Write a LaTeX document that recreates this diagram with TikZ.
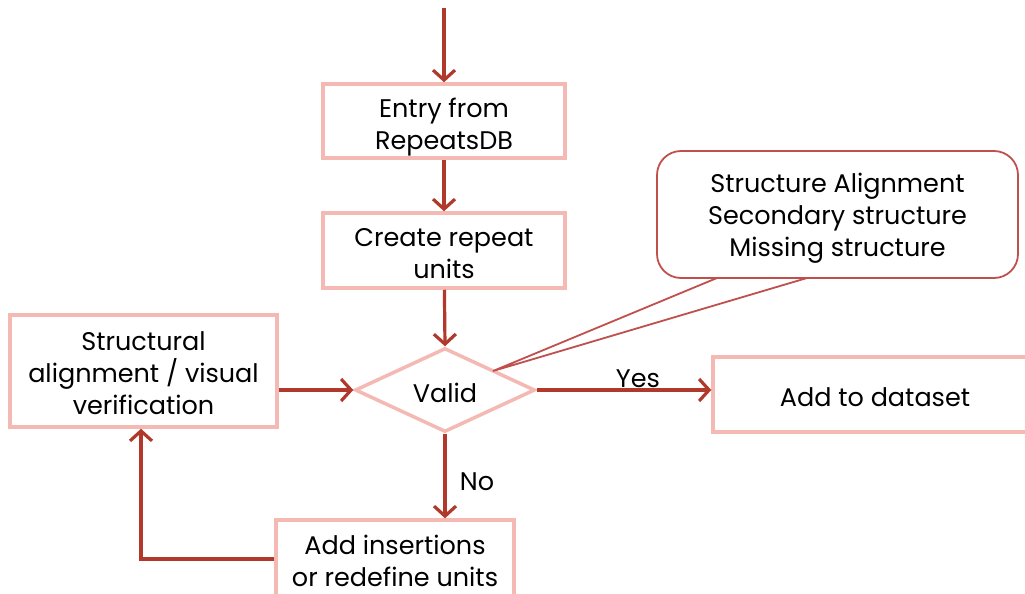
\documentclass[tikz,border=0pt]{standalone}
\usepackage{fontspec}
\setmainfont{Poppins}
\usetikzlibrary{arrows.meta,shapes.geometric}
\definecolor{boxpink}{HTML}{F4B9B2}
\definecolor{flowred}{HTML}{B0392B}
\definecolor{calloutred}{HTML}{C0504D}
\begin{document}
\begin{tikzpicture}[x=1pt,y=-1pt,
  font=\fontsize{25.5}{32}\selectfont,
  stepbox/.style={draw=boxpink,line width=3.5pt,fill=white,
    inner sep=0pt,rectangle},
  decision/.style={draw=boxpink,line width=3.5pt,fill=white,diamond,
    inner sep=0pt,minimum width=180pt,minimum height=84pt},
  boxtext/.style={align=center,inner sep=0pt},
  flow/.style={draw=flowred,line width=3.2pt,
    -{Straight Barb[length=10pt,width=22pt,line width=3.2pt]}},
  note/.style={draw=calloutred,line width=1.8pt,fill=white,rounded corners=24pt,
    inner sep=0pt,minimum width=361pt,minimum height=127pt}]
\useasboundingbox (0,0) rectangle (1025,594);
\clip (0,0) rectangle (1025,594);

% process steps
\node[stepbox,minimum width=242pt,minimum height=74pt] (entry) at (444,121) {};
\node[stepbox,minimum width=242pt,minimum height=75pt] (create) at (444,250.5) {};
\node[decision] (valid) at (445,390) {};
\node[stepbox,minimum width=267pt,minimum height=112pt] (struct) at (143.5,371) {};
\node[stepbox,minimum width=324pt,minimum height=75pt] (dataset) at (875,394.5) {};
\node[stepbox,minimum width=238pt,minimum height=78pt] (insert) at (395,559) {};

% step labels
\node[boxtext] (entrytext) at ([yshift=-6pt]entry.center) {Entry from\\RepeatsDB};
\node[boxtext] (createtext) at ([yshift=-3.5pt]create.center) {Create repeat\\units};
\node[boxtext] (validtext) at ([yshift=-3pt]valid.center) {Valid};
\node[boxtext] (structtext) at ([yshift=-2.5pt]struct.center) {Structural\\alignment / visual\\verification};
\node[boxtext] (datasettext) at ([yshift=-3pt]dataset.center) {Add to dataset};
\node[boxtext] (inserttext) at ([yshift=-2pt]insert.center) {Add insertions\\or redefine units};

% callout listing the validity checks
\node[note] (callout) at (837.5,214.5) {};
\coordinate (tip) at (493,371);
\coordinate (baseL) at (717,278);
\coordinate (baseR) at (807,278);
\fill[white] ([yshift=-2pt]baseL) -- (tip) -- ([yshift=-2pt]baseR) -- cycle;
\draw[calloutred,line width=1.8pt,line join=miter] (baseL) -- (tip) -- (baseR);
\node[boxtext] (callouttext) at ([yshift=-4pt]callout.center)
  {Structure Alignment\\Secondary structure\\Missing structure};

% connectors
\coordinate (start) at (444,8);
\draw[flow] (start) -- (entry.north);
\draw[flow] (entry) -- (create);
\draw[flow] (create) -- (valid.north);
\draw[flow] (struct.east |- valid.west) -- (valid.west);
\draw[flow] (valid.east) -- node[above=-3pt,pos=0.58] (yes) {Yes} (dataset.west |- valid.east);
\draw[flow] (valid.south) -- node[right=10pt,pos=0.57] (no) {No} (insert.north -| valid.south);
\draw[flow] (insert.west) -| ([xshift=-2.5pt]struct.south);
\end{tikzpicture}
\end{document}
